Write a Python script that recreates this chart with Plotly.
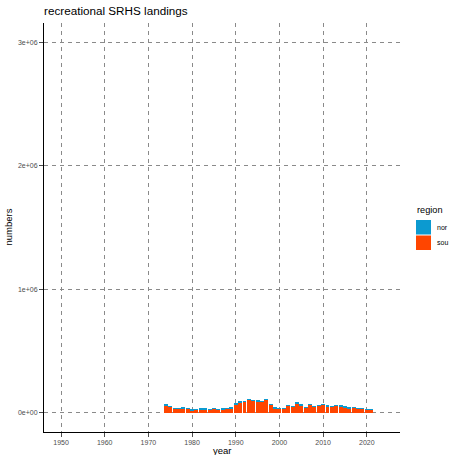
import plotly.graph_objects as go

# Annual recreational landings (numbers of fish) by region
years = list(range(1974, 2022))
sou = [59000, 51000, 35000, 35000, 35000, 35000, 22000, 27000, 30000, 30000,
       27000, 35000, 30000, 30000, 35000, 35000, 70000, 86000, 92000, 108000,
       100000, 94000, 92000, 108000, 67000, 35000, 35000, 35000, 59000, 49000,
       76000, 62000, 43000, 67000, 49000, 62000, 65000, 54000, 54000, 62000,
       54000, 46000, 35000, 46000, 35000, 35000, 27000, 27000]
nor = [8000, 2000, 1000, 1000, 8000, 1000, 5000, 1000, 5000, 5000,
       1000, 1000, 1000, 5000, 1000, 8000, 6000, 6000, 1000, 1000,
       1000, 6000, 1000, 1000, 1000, 8000, 1000, 1000, 1000, 5000,
       8000, 8000, 1000, 1000, 5000, 1000, 5000, 8000, 1000, 1000,
       8000, 8000, 8000, 1000, 1000, 1000, 1000, 1000]

region_names = ["nor", "sou"]
region_colors = {"nor": "#0C9AD0", "sou": "#FF4500"}

x_ticks = [1950, 1960, 1970, 1980, 1990, 2000, 2010, 2020]
y_ticks = [0, 1e6, 2e6, 3e6]
y_labels = ["0e+00", "1e+06", "2e+06", "3e+06"]

FONT = "Liberation Sans, Arial, Helvetica, sans-serif"
W, H = 449, 455
L, R, T, B = 44, 49, 23, 23

fig = go.Figure()
# sou at the bottom of each stack, nor on top
fig.add_trace(go.Bar(x=years, y=sou, name="sou", marker=dict(color=region_colors["sou"], line=dict(width=0)),
                     showlegend=False))
fig.add_trace(go.Bar(x=years, y=nor, name="nor", marker=dict(color=region_colors["nor"], line=dict(width=0)),
                     showlegend=False))

axis_common = dict(
    showline=True, linecolor="black", linewidth=1,
    ticks="outside", ticklen=4, tickwidth=1, tickcolor="#4d4d4d",
    tickfont=dict(family=FONT, size=7, color="#4d4d4d"),
    showgrid=True, gridcolor="#8a8a8a", gridwidth=1, griddash="4px,4px",
    zeroline=False, automargin=False,
)

fig.update_layout(
    width=W, height=H,
    margin=dict(l=L, r=R, t=T, b=B),
    paper_bgcolor="white", plot_bgcolor="white",
    barmode="stack", bargap=0.1,
    font=dict(family=FONT, color="black"),
    title=dict(text="recreational SRHS landings", x=0, xref="paper", xanchor="left",
               y=1 - 11 / H, yref="container", yanchor="middle",
               font=dict(family=FONT, size=11.7, color="black")),
    xaxis=dict(range=[1946.1, 2027.6], tickvals=x_ticks, **axis_common),
    yaxis=dict(range=[-155000, 3155000], tickvals=y_ticks, ticktext=y_labels, **axis_common),
)


def px_x(px):
    return (px - L) / (W - L - R)


def px_y(py):
    return (H - B - py) / (H - T - B)


# Axis titles
fig.add_annotation(text="year", x=0.5, y=px_y(450), xref="paper", yref="paper",
                   xanchor="center", yanchor="middle", showarrow=False,
                   font=dict(family=FONT, size=9.5, color="black"))
fig.add_annotation(text="numbers", x=px_x(8), y=0.5, xref="paper", yref="paper",
                   xanchor="center", yanchor="middle", showarrow=False, textangle=-90,
                   font=dict(family=FONT, size=9.5, color="black"))

# Legend drawn as keys + labels to the right of the panel
fig.add_annotation(text="region", x=px_x(415), y=px_y(210), xref="paper", yref="paper",
                   xanchor="left", yanchor="middle", showarrow=False,
                   font=dict(family=FONT, size=9.2, color="black"))
key_top = 220
for i, name in enumerate(region_names):
    y0 = key_top + i * 15.5
    fig.add_shape(type="rect", xref="paper", yref="paper",
                  x0=px_x(416), x1=px_x(431), y0=px_y(y0 + 14.5), y1=px_y(y0),
                  fillcolor=region_colors[name], line=dict(width=0))
    fig.add_annotation(text=name, x=px_x(435), y=px_y(y0 + 7.2), xref="paper", yref="paper",
                       xanchor="left", yanchor="middle", showarrow=False,
                       font=dict(family=FONT, size=7, color="black"))

fig.write_html("out.html")
